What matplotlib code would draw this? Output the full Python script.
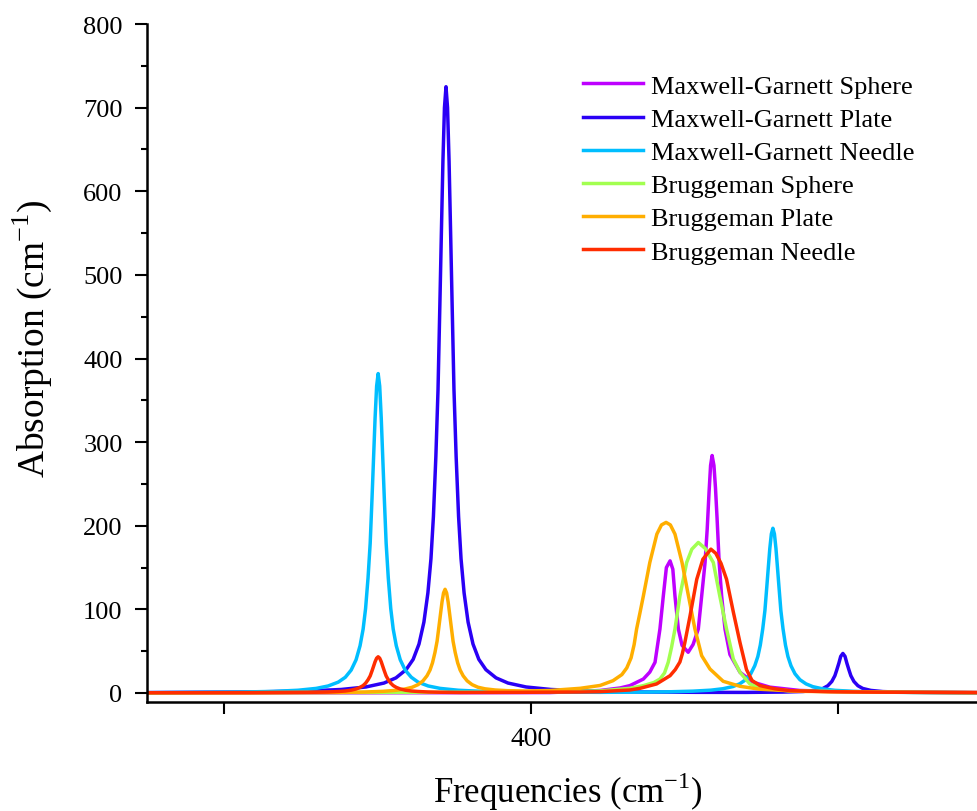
import matplotlib
matplotlib.use('Agg')
import matplotlib.pyplot as plt
from matplotlib.ticker import MultipleLocator

plt.rcParams['font.family'] = ['Liberation Serif', 'DejaVu Serif']
plt.rcParams['mathtext.fontset'] = 'custom'
plt.rcParams['mathtext.rm'] = 'Liberation Serif'

# Maxwell-Garnett Sphere
mgs_x = [274.9, 406.2, 422.5, 429.0, 432.2, 436.6, 438.7, 440.4, 442.0, 443.1, 444.1, 445.3,
         446.2, 446.9, 448.0, 449.2, 451.2, 452.8, 454.5, 455.6, 456.7, 457.4, 458.0, 458.5,
         459.0, 459.6, 460.1, 460.6, 461.3, 462.1, 463.2, 464.8, 468.1, 472.3, 477.8, 487.6,
         503.9, 520.2, 545.3]
mgs_y = [0, 0.5, 3, 6, 8.8, 16.7, 25, 36.7, 76.5, 116, 150, 158,
         148, 116, 76.5, 57, 48.7, 58, 76.5, 116, 156, 196, 240, 272,
         284, 272, 245, 210, 156, 116, 76.5, 46, 24.7, 13, 7, 3,
         1.5, 1, 0.5]

# Maxwell-Garnett Plate
mgp_x = [274.9, 310.4, 326.7, 338.1, 346.2, 352.1, 356.0, 359.3, 361.6, 363.5, 365.1, 366.4,
         367.4, 368.2, 369.0, 369.7, 370.3, 370.8, 371.3, 371.8, 372.3, 372.8, 373.3, 373.8,
         374.3, 374.9, 375.6, 376.4, 377.2, 378.2, 379.5, 381.1, 383.0, 385.3, 388.6, 392.5,
         398.4, 406.5, 417.9, 434.2, 453.7, 470.0, 482.1, 488.6, 492.5, 495.1, 496.7, 498.0,
         499.0, 499.6, 500.3, 500.9, 501.6, 502.3, 502.9, 503.6, 504.2, 505.2, 506.5, 508.1,
         510.7, 514.6, 521.1, 545.3]
mgp_y = [0.5, 1.3, 2.4, 4.2, 7.2, 11.9, 18.1, 27.9, 40.2, 58.5, 84.7, 119.6,
         160.5, 211, 283, 362.5, 464, 551, 636, 700, 725, 700, 636, 551,
         464, 362.5, 283, 211, 160.5, 119.6, 84.7, 58.5, 40.2, 27.9, 18.1, 11.9,
         7.2, 4.2, 2.4, 1.3, 0.8, 0.7, 1.1, 1.8, 3.2, 5.4, 8.7, 13.8,
         20.7, 27.4, 35.7, 43.8, 47.3, 43.8, 35.7, 27.4, 20.7, 13.8, 8.7, 5.4,
         3.1, 1.7, 0.9, 0.4]

# Maxwell-Garnett Needle
mgn_x = [274.9, 304.6, 316.0, 324.1, 330.0, 333.9, 337.2, 339.5, 341.4, 343.0, 344.3, 345.3,
         346.1, 346.9, 347.6, 348.2, 348.7, 349.2, 349.7, 350.2, 350.7, 351.2, 351.7, 352.2,
         352.8, 353.5, 354.3, 355.1, 356.1, 357.4, 359.0, 361.0, 363.2, 366.5, 370.4, 376.3,
         384.4, 395.8, 422.5, 433.2, 444.6, 452.7, 458.6, 462.5, 465.8, 468.0, 470.0, 471.6,
         472.9, 473.9, 474.7, 475.5, 476.2, 476.8, 477.3, 477.8, 478.3, 478.8, 479.3, 479.8,
         480.3, 480.8, 481.4, 482.1, 482.9, 483.7, 484.7, 486.0, 487.6, 489.6, 491.8, 495.1,
         499.0, 504.9, 513.0, 524.4, 545.3]
mgn_y = [0.4, 1.1, 1.9, 3.3, 5.5, 8.4, 13.0, 18.8, 27.4, 39.7, 56.5, 76.4,
         101, 137.5, 179, 233, 281, 329, 367, 382, 367, 329, 281, 233,
         179, 137.5, 101, 76.4, 56.5, 39.7, 27.4, 18.8, 13.0, 8.4, 5.5, 3.3,
         1.9, 1.3, 0.8, 1.0, 1.4, 2.2, 3.4, 5.1, 7.7, 11.0, 16.0, 23.1,
         32.6, 43.6, 57.3, 76.8, 98.5, 126.1, 149.7, 172.8, 190.2, 197, 190.2, 172.8,
         149.7, 126.1, 98.5, 76.8, 57.3, 43.6, 32.5, 23.0, 15.9, 10.9, 7.6, 4.9,
         3.2, 2.0, 1.1, 0.65, 0.3]

# Bruggeman Sphere
bs_x = [274.9, 396.4, 422.5, 432.2, 436.6, 440.0, 442.0, 443.5, 444.7, 445.8, 446.9, 448.5,
        450.7, 452.4, 454.5, 456.7, 459.4, 461.5, 463.7, 465.9, 468.1, 471.3, 474.6, 484.4,
        513.7, 545.3]
bs_y = [0.2, 1, 2.5, 5.6, 8.8, 12.5, 16.7, 24, 36.7, 55, 76.5, 116,
        156, 172, 180, 173, 156, 116, 76.5, 40.7, 24.7, 10.8, 6, 2.5,
        1, 0.4]

# Bruggeman Plate
bp_x = [274.9, 308.5, 326.4, 337.8, 345.9, 351.8, 355.7, 359.0, 361.3, 363.2, 364.8, 366.1,
        367.1, 367.9, 368.7, 369.4, 370.0, 370.5, 371.0, 371.5, 372.0, 372.5, 373.0, 373.5,
        374.0, 374.6, 375.3, 376.1, 376.9, 377.9, 379.2, 380.8, 382.7, 385.0, 388.3, 392.2,
        398.1, 406.2, 416.0, 422.5, 426.7, 429.6, 431.2, 432.6, 433.6, 434.4, 435.5, 436.6,
        438.7, 441.0, 442.5, 444.0, 445.4, 446.9, 449.2, 451.3, 453.4, 455.6, 458.3, 462.6,
        468.1, 474.6, 487.6, 513.7, 545.3]
bp_y = [0.3, 0.3, 0.5, 0.7, 1.2, 2.0, 3.1, 4.8, 6.9, 10.0, 14.5, 20.5,
        27.5, 36.1, 48.4, 62, 79.4, 94.2, 108.8, 119.7, 124, 119.7, 108.8, 94.2,
        79.4, 62, 48.4, 36.1, 27.5, 20.5, 14.5, 10.0, 6.9, 5.0, 3.6, 2.8,
        2.4, 3.0, 5.6, 9, 14.7, 22, 30, 42, 58, 76.5, 96, 116,
        156, 190, 201, 204, 201, 190, 156, 116, 76.5, 44.6, 28.7, 14,
        8, 4.5, 2, 1, 0.5]

# Bruggeman Needle
bn_x = [274.9, 308.5, 330.0, 333.9, 337.2, 339.5, 341.4, 343.0, 344.3, 345.3, 346.1, 346.9,
        347.6, 348.2, 348.7, 349.2, 349.7, 350.2, 350.7, 351.2, 351.7, 352.2, 352.8, 353.5,
        354.3, 355.1, 356.1, 357.4, 359.0, 361.0, 363.2, 366.5, 370.4, 376.9, 396.4, 416.0,
        422.5, 432.2, 435.5, 440.9, 445.3, 447.0, 448.5, 449.3, 450.1, 451.8, 454.0, 456.0,
        458.6, 460.2, 461.9, 463.7, 465.9, 468.1, 470.2, 472.0, 474.6, 479.5, 484.4, 497.4,
        513.7, 545.3]
bn_y = [0.3, 0.4, 0.9, 1.2, 1.8, 2.4, 3.4, 4.8, 6.7, 8.9, 11.7, 15.8,
        20.4, 26.5, 31.9, 37.4, 41.6, 43.3, 41.6, 37.4, 31.9, 26.5, 20.4, 15.8,
        11.7, 8.9, 6.7, 4.8, 3.4, 2.4, 1.8, 1.2, 0.9, 0.6, 0.8, 1.2,
        1.6, 3.6, 5.6, 10.8, 20.7, 28, 37, 47, 60, 92, 136, 160,
        172, 167, 155, 136, 97, 60, 28, 15, 8.8, 5, 2.8, 1.5,
        1, 0.5]

labels = ['Maxwell-Garnett Sphere', 'Maxwell-Garnett Plate', 'Maxwell-Garnett Needle',
          'Bruggeman Sphere', 'Bruggeman Plate', 'Bruggeman Needle']
colors = ['#BE00FF', '#2A00F5', '#00BEFF', '#A2FF50', '#FFAE00', '#FF2D00']
series = [(mgs_x, mgs_y), (mgp_x, mgp_y), (mgn_x, mgn_y),
          (bs_x, bs_y), (bp_x, bp_y), (bn_x, bn_y)]

fig = plt.figure(figsize=(9.77, 8.12), dpi=100)
ax = fig.add_axes([0.1505, 0.1342, 0.8495, 0.835])

for (x, y), c, lab in zip(series, colors, labels):
    ax.plot(x, y, color=c, lw=2.5, label=lab, solid_joinstyle='round')

ax.set_xlim(274.9, 545.3)
ax.set_ylim(-10.8, 800)
ax.set_xticks([300, 400, 500])
ax.set_xticklabels(['', '400', ''])
ax.yaxis.set_major_locator(MultipleLocator(100))
ax.yaxis.set_minor_locator(MultipleLocator(50))

for s in ['top', 'right']:
    ax.spines[s].set_visible(False)
for s in ['left', 'bottom']:
    ax.spines[s].set_linewidth(1.8)

ax.tick_params(axis='both', which='major', direction='out', length=8.6, width=1.5)
ax.tick_params(axis='y', which='minor', direction='out', length=4.3, width=1.5)
ax.tick_params(axis='y', labelsize=19, pad=9)
ax.tick_params(axis='x', labelsize=20, pad=9)

ax.set_xlabel('Frequencies (cm$^{\\mathregular{-1}}$)', fontsize=25)
ax.set_ylabel('Absorption (cm$^{\\mathregular{-1}}$)', fontsize=27)
ax.xaxis.set_label_coords(0.507, -0.099)
ax.yaxis.set_label_coords(-0.112, 0.537)

ax.legend(loc='upper left', bbox_to_anchor=(0.5967, 0.9076), bbox_transform=fig.transFigure,
          frameon=False, fontsize=19, handlelength=2.27, handletextpad=0.3,
          labelspacing=0.37, borderpad=0, borderaxespad=0)

plt.savefig('out.png', dpi=100)
